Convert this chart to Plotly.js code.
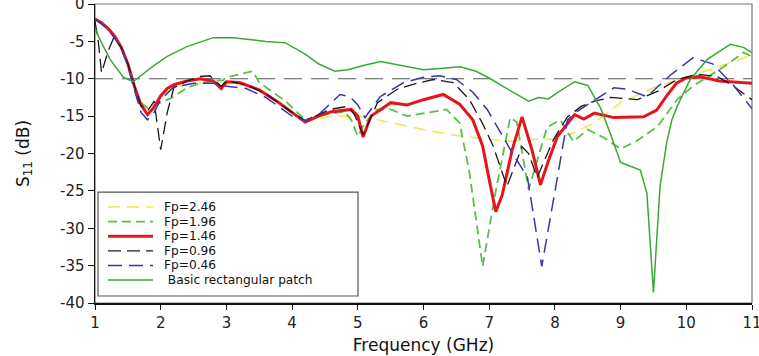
<!DOCTYPE html>
<html>
<head>
<meta charset="utf-8">
<script src="https://cdn.plot.ly/plotly-3.0.1.min.js"></script>
<style>html,body{margin:0;padding:0;background:#fff;}#chart{width:759px;height:356px;}</style>
</head>
<body>
<div id="chart"></div>
<script>
// ---- data ----
const refLevel = -10;

const fp246_f = [1.0,1.2,1.4,1.5,1.6,1.7,1.8,1.9,2.0,2.2,2.5,2.8,2.92,3.0,3.3,3.6,4.0,4.2,4.6,5.0,5.3,5.6,6.0,6.5,7.0,7.3,7.7,8.0,8.3,8.6,9.0,9.5,10.0,10.5,11.0];
const fp246_s = [-2.0,-3.2,-5.6,-8.0,-11.0,-13.3,-14.4,-13.5,-12.2,-11.2,-10.6,-10.6,-11.0,-10.8,-10.9,-12.0,-14.6,-15.7,-15.0,-15.0,-15.5,-16.1,-16.8,-17.6,-18.1,-18.4,-18.1,-18.1,-17.2,-15.9,-13.2,-11.2,-9.8,-8.4,-6.8];

const fp196_f = [1.0,1.2,1.4,1.5,1.6,1.7,1.8,1.9,2.0,2.2,2.4,2.6,2.8,2.95,3.0,3.2,3.4,3.5,3.7,3.9,4.2,4.5,4.8,4.9,5.0,5.1,5.3,5.5,5.75,6.0,6.35,6.55,6.7,6.9,7.1,7.32,7.42,7.6,7.88,8.08,8.28,8.5,8.75,9.0,9.25,9.56,9.86,10.1,10.57,10.87,11.0];
const fp196_s = [-2.0,-3.2,-5.6,-8.0,-11.0,-13.2,-13.9,-13.6,-13.2,-12.4,-11.2,-10.6,-10.3,-10.2,-9.8,-9.4,-9.0,-10.5,-11.8,-13.0,-15.5,-14.8,-14.4,-15.5,-17.7,-16.0,-14.1,-14.1,-15.0,-14.6,-14.1,-15.9,-22.6,-35.1,-25.0,-15.2,-15.8,-24.8,-16.5,-15.5,-18.4,-16.8,-17.9,-19.4,-18.3,-16.4,-12.8,-11.0,-8.4,-6.5,-7.0];

const fp146_f = [1.0,1.1,1.2,1.3,1.4,1.5,1.6,1.7,1.8,1.9,2.0,2.1,2.2,2.4,2.6,2.8,2.92,3.0,3.2,3.5,3.8,4.0,4.2,4.4,4.6,4.9,5.0,5.08,5.2,5.35,5.5,5.75,6.0,6.3,6.55,6.75,6.9,7.0,7.1,7.2,7.35,7.5,7.65,7.78,7.9,8.04,8.2,8.3,8.44,8.6,8.9,9.35,9.55,9.7,9.85,10.0,10.2,10.5,11.0];
const fp146_s = [-2.0,-2.5,-3.3,-4.3,-5.8,-8.0,-11.0,-13.5,-14.8,-13.8,-12.3,-11.3,-10.8,-10.3,-10.0,-10.3,-11.3,-10.4,-10.5,-11.5,-13.2,-14.5,-15.8,-15.0,-14.4,-14.1,-15.0,-17.8,-15.0,-14.1,-13.2,-13.5,-12.8,-12.1,-13.4,-15.5,-19.0,-23.5,-27.8,-25.5,-19.5,-15.1,-19.5,-24.2,-21.0,-17.7,-16.0,-14.8,-15.4,-14.6,-15.2,-15.1,-14.2,-12.3,-10.6,-9.9,-9.7,-10.3,-10.6];

const fp096_f = [1.0,1.05,1.1,1.2,1.28,1.4,1.5,1.6,1.7,1.8,1.9,2.0,2.1,2.2,2.4,2.6,2.75,2.92,3.0,3.3,3.6,4.0,4.2,4.58,4.84,4.95,5.08,5.3,5.6,5.9,6.15,6.45,6.7,6.9,7.06,7.27,7.5,7.6,7.73,7.98,8.19,8.4,8.6,8.85,9.26,9.56,9.86,10.17,10.47,10.72,11.0];
const fp096_s = [-2.3,-5.0,-9.2,-6.3,-4.6,-5.8,-8.0,-11.0,-13.6,-14.3,-13.0,-19.5,-14.5,-11.2,-10.3,-9.7,-9.6,-11.0,-10.3,-10.8,-12.0,-14.5,-15.6,-14.1,-13.7,-14.8,-17.5,-13.2,-11.4,-10.6,-10.1,-10.5,-12.8,-16.0,-19.0,-24.4,-19.1,-20.0,-23.2,-18.1,-15.1,-13.7,-13.0,-12.5,-12.8,-11.7,-10.1,-9.4,-9.7,-11.0,-12.8];

const fp046_f = [1.0,1.2,1.4,1.5,1.6,1.7,1.8,1.9,2.0,2.2,2.5,2.8,3.0,3.3,3.6,4.0,4.2,4.43,4.73,4.88,5.0,5.11,5.34,5.7,6.0,6.25,6.5,6.75,6.97,7.2,7.37,7.58,7.8,8.04,8.19,8.35,8.54,8.9,9.1,9.4,9.76,10.1,10.4,10.72,11.0];
const fp046_s = [-2.0,-3.4,-5.8,-8.3,-11.5,-14.5,-15.5,-14.5,-12.8,-11.1,-10.6,-10.6,-11.0,-11.3,-12.5,-15.0,-15.6,-14.6,-12.1,-12.4,-13.5,-15.2,-12.4,-10.5,-9.8,-9.6,-10.1,-11.8,-14.1,-17.5,-20.2,-23.1,-35.1,-23.1,-15.5,-14.3,-13.2,-11.2,-11.4,-12.4,-9.5,-7.2,-8.0,-10.9,-14.0];

const basic_f = [1.0,1.1,1.23,1.43,1.58,1.73,1.9,2.1,2.4,2.8,3.1,3.6,3.9,4.2,4.4,4.65,4.85,5.1,5.35,5.7,6.0,6.3,6.56,6.8,7.0,7.3,7.6,7.75,7.9,8.05,8.3,8.5,8.7,8.85,9.0,9.15,9.3,9.4,9.5,9.6,9.7,9.78,9.86,10.06,10.32,10.67,10.87,11.0];
const basic_s = [-3.3,-5.2,-7.4,-9.8,-10.4,-9.4,-8.2,-7.0,-5.7,-4.5,-4.5,-5.0,-5.2,-6.7,-8.0,-9.0,-8.8,-8.2,-7.7,-8.3,-8.8,-8.6,-8.4,-9.0,-9.9,-11.5,-13.0,-12.5,-12.7,-11.8,-10.4,-10.9,-14.0,-17.5,-21.2,-21.7,-22.2,-25.3,-38.6,-24.4,-18.6,-15.5,-13.7,-10.1,-7.4,-5.4,-5.8,-6.5];

const seriesNames = ['Fp=2.46','Fp=1.96','Fp=1.46','Fp=0.96','Fp=0.46',' Basic rectangular patch'];
const xTicks = [1,2,3,4,5,6,7,8,9,10,11];
const yTicks = [0,-5,-10,-15,-20,-25,-30,-35,-40];

// ---- styles ----
const lineStyles = [
  {color: '#f2e64a', width: 1.5, dash: '12px,7px'},
  {color: '#5cbf45', width: 1.8, dash: '9px,5px'},
  {color: '#e8141c', width: 3},
  {color: '#1a1a1a', width: 1.3, dash: '13px,6px'},
  {color: '#3438b0', width: 1.5, dash: '14px,7px'},
  {color: '#39a935', width: 1.5}
];
const xs = [fp246_f, fp196_f, fp146_f, fp096_f, fp046_f, basic_f];
const ys = [fp246_s, fp196_s, fp146_s, fp096_s, fp046_s, basic_s];

const traces = seriesNames.map((n, i) => ({
  type: 'scatter', mode: 'lines', x: xs[i], y: ys[i], name: n,
  line: lineStyles[i], showlegend: false
}));

const font = 'DejaVu Sans, Verdana, sans-serif';

// ---- legend box drawn in paper coordinates ----
const lg = {x0: 0.0046, x1: 0.4003, y0: 0.0234, y1: 0.371, lx0: 0.0198, lx1: 0.0883, tx: 0.1035, row0: 0.321, step: 0.0488};
const shapes = [
  {type: 'rect', xref: 'paper', yref: 'paper', x0: 0, x1: 1, y0: 0, y1: 1,
   line: {color: '#777', width: 1.2}, layer: 'below'},
  {type: 'line', xref: 'paper', yref: 'y', x0: 0, x1: 1, y0: refLevel, y1: refLevel,
   line: {color: '#555', width: 1.2, dash: '18px,9px'}, layer: 'below'},
  {type: 'rect', xref: 'paper', yref: 'paper', x0: lg.x0, x1: lg.x1, y0: lg.y0, y1: lg.y1,
   line: {color: '#555', width: 1.2}, fillcolor: 'rgba(255,255,255,1)', layer: 'above'}
];
const annotations = [];
seriesNames.forEach((n, i) => {
  const yy = lg.row0 - i * lg.step;
  shapes.push({type: 'line', xref: 'paper', yref: 'paper', x0: lg.lx0, x1: lg.lx1, y0: yy, y1: yy,
               line: Object.assign({}, lineStyles[i]), layer: 'above'});
  annotations.push({xref: 'paper', yref: 'paper', x: lg.tx, y: yy, xanchor: 'left', yanchor: 'middle',
                    text: n.replace(/^ /, '&nbsp;'), showarrow: false, borderpad: 0,
                    font: {family: font, size: 12.2, color: '#111'}});
});

const layout = {
  width: 759, height: 356,
  margin: {l: 95, r: 7, t: 4, b: 53},
  paper_bgcolor: '#fff', plot_bgcolor: '#fff',
  font: {family: font, color: '#222', size: 14},
  showlegend: false,
  xaxis: {
    range: [1, 11], tickvals: xTicks, ticktext: xTicks.map(String),
    showgrid: false, zeroline: false, ticklabeloverflow: 'allow',
    showline: true, linecolor: '#111', linewidth: 1.5,
    ticks: 'outside', ticklen: 5, tickcolor: '#111',
    tickfont: {size: 15, family: font, color: '#222'},
    title: {text: 'Frequency (GHz)', font: {size: 17, family: font, color: '#111'}, standoff: 8}
  },
  yaxis: {
    range: [-40, 0], tickvals: yTicks, ticktext: yTicks.map(String),
    showgrid: false, zeroline: false, ticklabeloverflow: 'allow',
    showline: true, linecolor: '#111', linewidth: 1.5,
    ticks: 'outside', ticklen: 6, tickcolor: '#111',
    tickfont: {size: 15, family: font, color: '#222'},
    title: {text: 'S<sub>11</sub> (dB)', font: {size: 17, family: font, color: '#111'}, standoff: 26}
  },
  shapes: shapes,
  annotations: annotations
};

Plotly.newPlot('chart', traces, layout, {displayModeBar: false, staticPlot: true});
</script>
</body>
</html>
